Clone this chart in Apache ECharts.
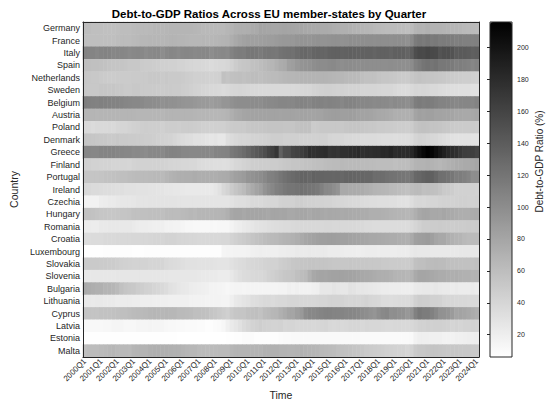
<!DOCTYPE html>
<html>
<head>
<meta charset="utf-8">
<script src="https://cdn.jsdelivr.net/npm/echarts@6/dist/echarts.min.js"></script>
<style>
  html, body { margin: 0; padding: 0; background: #fff; }
  #chart { width: 550px; height: 406px; }
</style>
</head>
<body>
<div id="chart"></div>
<script>
// Debt-to-GDP heatmap, quarterly, 2000Q1 - 2024Q1

const countries = ['Germany', 'France', 'Italy', 'Spain', 'Netherlands', 'Sweden', 'Belgium', 'Austria',
    'Poland', 'Denmark', 'Greece', 'Finland', 'Portugal', 'Ireland', 'Czechia', 'Hungary', 'Romania',
    'Croatia', 'Luxembourg', 'Slovakia', 'Slovenia', 'Bulgaria', 'Lithuania', 'Cyprus', 'Latvia',
    'Estonia', 'Malta'];

// quarter labels
const quarters = [];
for (let y = 2000; y <= 2024; y++) {
    for (let q = 1; q <= 4; q++) {
        if (y === 2024 && q > 1) break;
        quarters.push(y + 'Q' + q);
    }
}

// values per country, 4 per year, last one is 2024Q1
const germany = [60,60,59,59, 59,58,58,58, 59,60,60,60, 62,63,63,63, 64,65,65,65, 66,67,67,67, 67,67,67,66, 65,64,64,64, 64,64,64,66, 68,71,72,72, 73,75,76,81, 80,79,79,79, 80,81,80,80, 79,79,78,77, 76,76,75,75, 74,73,72,71, 71,70,69,68, 67,66,65,64, 63,62,61,61, 61,60,60,59, 61,67,69,68, 70,69,69,69, 68,67,66,66, 65,64,63,63, 62];
const france = [59,59,59,59, 59,59,59,59, 60,61,61,61, 63,64,65,65, 66,66,66,66, 67,68,68,67, 67,66,65,65, 65,66,65,65, 66,67,68,69, 73,77,80,83, 84,84,84,85, 86,87,87,88, 90,91,91,91, 93,94,94,93, 95,96,95,95, 96,97,97,96, 97,99,98,98, 99,99,99,98, 99,99,99,98, 99,99,99,97, 102,114,117,115, 118,115,116,113, 114,113,113,111, 112,111,111,110, 111];
const italy = [108,107,107,105, 107,108,107,105, 106,106,105,102, 104,105,104,101, 103,104,104,100, 104,106,105,102, 105,106,105,103, 104,104,104,100, 103,103,104,102, 108,112,114,113, 117,118,117,115, 118,119,118,117, 121,123,124,123, 127,130,131,129, 133,134,133,132, 135,136,136,135, 136,137,136,135, 136,136,136,134, 136,136,136,134, 137,137,137,134, 139,152,156,155, 158,156,155,147, 150,150,148,141, 142,142,140,137, 139];
const spain = [59,59,58,58, 57,56,55,54, 54,54,53,51, 51,51,49,48, 48,47,46,45, 45,44,44,42, 42,41,40,39, 39,38,37,36, 37,38,38,40, 43,48,51,53, 54,57,58,60, 63,65,66,70, 74,76,84,86, 91,94,95,96, 99,101,101,101, 102,103,101,99, 101,101,100,99, 100,100,99,99, 99,99,99,100, 99,99,98,98, 101,111,115,120, 122,120,122,117, 117,116,115,111, 112,111,109,105, 108];
const netherlands = [53,52,51,51, 50,49,48,48, 49,49,49,49, 50,50,50,50, 51,51,51,50, 51,50,50,50, 49,47,46,45, 45,45,44,43, 44,45,57,55, 57,58,59,57, 59,60,60,59, 60,61,62,62, 64,65,66,66, 67,68,68,68, 68,68,68,68, 67,66,65,65, 64,63,63,62, 59,57,57,57, 55,53,53,52, 51,50,49,49, 52,55,56,55, 54,54,53,52, 51,50,49,48, 47,46,46,45, 44];
const sweden = [52,51,51,51, 53,53,52,53, 51,51,50,50, 51,51,50,50, 50,50,49,49, 50,50,49,49, 47,46,45,43, 42,41,40,38, 38,37,36,37, 39,40,41,40, 39,38,38,37, 37,37,37,37, 37,37,37,37, 38,39,40,40, 42,43,44,45, 45,44,43,44, 43,42,42,42, 41,41,41,41, 40,39,39,39, 37,36,35,35, 37,40,39,40, 39,37,37,36, 35,34,33,33, 32,32,32,31, 31];
const belgium = [112,111,110,109, 111,110,109,108, 108,107,106,105, 104,104,103,101, 101,100,99,97, 98,97,97,95, 94,93,93,92, 90,89,89,87, 89,89,93,93, 97,99,100,100, 100,101,101,100, 102,103,103,104, 106,106,105,105, 107,108,107,106, 109,109,109,107, 109,108,107,105, 108,108,107,105, 105,105,104,102, 103,102,102,100, 102,101,101,98, 102,112,115,112, 114,113,111,108, 108,107,106,104, 106,106,106,105, 108];
const austria = [67,67,67,66, 67,67,67,67, 67,67,67,67, 67,66,66,66, 66,66,66,66, 68,68,68,68, 68,68,68,67, 66,66,66,65, 65,65,66,68, 72,76,78,80, 81,82,82,82, 82,82,82,82, 81,82,82,82, 81,82,82,81, 81,82,82,84, 85,86,86,85, 85,86,85,83, 82,82,81,79, 78,77,76,74, 72,72,71,71, 72,81,84,83, 84,84,82,82, 81,81,80,78, 78,77,77,78, 79];
const poland = [37,37,36,37, 37,37,38,37, 40,41,41,42, 44,45,46,47, 46,46,46,45, 47,47,47,46, 48,48,48,47, 46,45,45,44, 45,45,45,47, 49,50,50,50, 52,53,53,53, 54,55,55,55, 55,54,54,54, 56,57,57,57, 49,50,51,51, 51,51,51,51, 53,54,54,54, 53,52,51,51, 50,50,49,49, 48,47,47,46, 48,54,56,57, 56,55,55,54, 52,51,50,49, 49,49,49,50, 49];
const denmark = [55,54,53,52, 51,51,50,50, 51,50,50,49, 49,48,48,47, 47,46,45,44, 43,42,40,37, 36,34,33,31, 31,30,28,27, 28,26,26,33, 36,38,40,40, 41,42,42,43, 44,45,46,46, 46,45,45,45, 45,44,44,44, 44,44,44,44, 41,40,40,40, 38,38,37,37, 36,36,36,36, 35,34,34,34, 33,34,34,34, 36,41,43,42, 41,39,38,36, 34,32,31,30, 30,30,30,29, 29];
const greece = [106,106,105,105, 107,107,107,107, 106,106,105,105, 102,103,102,101, 104,104,104,103, 107,108,108,107, 105,105,104,104, 104,104,104,103, 107,107,108,109, 116,120,123,127, 133,139,143,147, 152,160,164,172, 136,150,151,159, 162,165,170,178, 176,177,178,180, 172,174,172,177, 177,180,180,182, 177,179,178,180, 180,183,182,186, 181,182,180,181, 184,194,203,210, 216,211,204,196, 190,183,180,177, 171,166,165,164, 160];
const finland = [44,44,43,43, 42,42,42,41, 41,41,41,40, 42,43,43,43, 43,43,43,43, 42,41,40,40, 39,39,38,38, 36,35,34,34, 33,33,32,33, 36,39,40,42, 44,46,46,47, 47,47,48,48, 50,51,52,54, 54,55,56,56, 58,59,59,60, 61,62,62,64, 63,63,63,63, 62,62,61,61, 60,60,60,60, 59,60,60,60, 64,68,69,69, 70,69,67,65, 68,70,72,74, 74,76,76,77, 79];
const portugal = [54,54,54,54, 55,56,56,57, 58,59,59,60, 61,62,62,62, 63,64,64,63, 66,69,70,72, 72,73,73,74, 73,73,73,73, 73,74,75,76, 80,84,86,88, 94,96,98,100, 104,110,111,114, 119,123,126,129, 131,134,134,131, 135,134,134,133, 133,132,133,131, 134,134,133,132, 132,131,131,126, 126,126,124,122, 121,120,119,117, 121,130,132,135, 138,137,131,125, 124,121,118,112, 113,111,107,99, 100];
const ireland = [38,37,36,36, 35,34,34,33, 32,32,31,31, 31,30,30,30, 29,29,28,28, 27,27,26,26, 25,24,24,24, 24,24,24,24, 27,31,38,42, 49,54,58,62, 70,76,82,86, 95,101,105,111, 113,117,120,120, 121,123,121,120, 119,116,111,104, 103,99,95,77, 77,75,75,74, 74,72,70,68, 67,66,65,63, 62,60,59,57, 60,62,62,58, 59,58,57,54, 50,49,47,44, 44,44,44,44, 43];
const czechia = [17,17,17,17, 21,22,23,23, 25,26,26,26, 27,28,28,28, 29,29,29,29, 29,29,29,28, 28,28,28,28, 28,28,28,28, 28,28,28,28, 30,32,33,33, 35,37,37,37, 39,40,40,40, 43,44,44,44, 46,46,45,44, 44,43,43,42, 42,41,40,40, 39,38,37,37, 36,35,34,34, 33,33,33,32, 32,31,31,30, 34,38,39,38, 40,41,41,42, 43,43,43,44, 45,45,44,44, 45];
const hungary = [57,57,56,55, 53,53,52,52, 53,54,54,55, 57,57,58,58, 59,59,59,59, 61,61,61,61, 63,64,65,64, 66,66,66,66, 67,67,68,71, 78,80,80,78, 80,80,80,80, 79,78,80,80, 79,80,78,78, 79,79,79,77, 79,79,78,76, 78,77,77,76, 77,76,75,75, 74,74,72,72, 72,71,70,69, 68,67,67,65, 67,72,78,80, 80,78,78,77, 79,77,76,74, 73,73,73,74, 75];
const romania = [22,22,22,22, 24,24,25,25, 25,25,25,25, 23,22,21,21, 20,19,19,19, 17,17,16,16, 14,13,13,12, 12,12,12,13, 12,13,13,13, 16,19,21,23, 25,27,29,30, 31,32,33,34, 35,36,36,37, 38,38,38,38, 38,38,38,39, 39,38,38,38, 38,38,38,37, 37,36,36,35, 35,35,35,35, 35,35,35,35, 37,41,44,47, 47,48,48,49, 48,48,47,48, 48,48,49,49, 50];
const croatia = [35,35,36,36, 36,37,37,37, 38,38,38,38, 39,39,39,39, 40,41,41,41, 42,42,42,41, 40,40,39,39, 38,38,38,38, 38,38,39,39, 42,45,47,49, 51,54,56,58, 60,62,63,64, 66,68,69,70, 73,76,79,81, 83,84,85,85, 86,86,85,84, 84,83,82,81, 80,79,78,78, 77,76,75,74, 74,73,72,71, 76,84,86,87, 88,85,80,78, 78,73,70,68, 67,64,62,62, 62];
const luxembourg = [7,7,7,7, 7,8,8,8, 8,8,8,8, 7,7,7,8, 8,8,8,8, 8,8,8,8, 8,8,8,8, 8,8,8,8, 8,8,14,15, 15,16,16,16, 17,18,19,20, 19,19,19,19, 21,21,22,22, 23,23,23,24, 23,23,23,23, 22,22,22,22, 21,21,21,20, 21,22,22,22, 21,21,21,21, 21,22,22,22, 24,26,25,25, 25,24,24,24, 24,24,25,25, 26,26,26,26, 26];
const slovakia = [50,50,50,50, 49,49,48,48, 46,45,44,43, 42,42,42,42, 41,41,41,41, 37,36,35,34, 32,31,31,31, 30,30,30,30, 29,28,28,28, 31,33,35,36, 38,39,40,41, 42,43,43,43, 46,48,50,52, 53,54,54,55, 55,54,54,54, 53,52,52,52, 52,53,52,52, 52,52,51,51, 51,50,50,49, 49,49,48,48, 50,57,59,59, 61,61,62,61, 61,59,58,58, 57,57,57,56, 58];
const slovenia = [25,25,26,26, 26,26,26,26, 27,27,27,27, 27,27,27,27, 27,27,27,27, 27,26,26,26, 26,26,26,26, 25,24,24,23, 23,22,22,22, 25,29,32,35, 36,37,38,38, 40,43,45,47, 50,52,53,54, 58,60,62,70, 78,80,81,80, 82,83,83,83, 82,82,81,79, 78,77,76,74, 73,72,72,70, 68,67,67,65, 68,76,80,80, 79,78,76,74, 74,73,72,73, 71,70,70,68, 69];
const bulgaria = [77,74,73,71, 71,68,68,66, 63,57,54,52, 51,48,46,44, 43,41,39,37, 35,31,29,27, 25,24,22,21, 20,19,18,16, 16,15,14,13, 14,15,15,14, 15,15,15,15, 15,15,15,15, 16,16,18,17, 18,17,17,17, 18,19,26,26, 26,28,27,26, 26,30,29,27, 27,26,25,24, 23,22,22,21, 21,21,20,20, 20,23,24,25, 25,24,26,24, 23,23,22,23, 22,22,22,23, 22];
const lithuania = [24,24,23,24, 24,23,23,23, 22,22,22,22, 21,21,20,20, 20,19,19,19, 19,18,18,18, 18,18,17,17, 17,17,16,16, 16,16,15,15, 19,24,26,28, 30,33,34,36, 37,37,36,37, 38,38,40,40, 40,39,39,39, 39,40,41,41, 42,42,42,42, 41,40,41,40, 41,42,40,39, 38,35,35,34, 35,36,36,36, 37,44,47,46, 46,44,44,43, 40,39,39,38, 38,38,37,37, 37];
const cyprus = [55,55,55,55, 56,56,56,57, 58,59,59,60, 62,63,63,64, 65,66,65,65, 66,65,65,63, 63,62,61,59, 59,58,57,54, 52,50,47,45, 50,53,54,54, 57,58,59,56, 61,63,65,66, 71,75,80,80, 86,90,101,104, 104,106,107,109, 109,107,107,107, 106,106,105,103, 101,99,96,93, 99,103,105,98, 99,97,96,91, 95,110,117,114, 114,110,104,97, 96,93,88,81, 82,80,78,74, 72];
const latvia = [12,12,12,12, 12,13,13,14, 14,14,13,13, 13,14,14,14, 15,14,14,14, 13,12,12,11, 11,10,10,10, 9,9,8,8, 9,10,13,18, 23,27,31,36, 39,42,44,46, 44,43,42,42, 43,40,41,41, 39,39,39,39, 38,39,40,41, 38,37,38,37, 38,40,40,40, 38,40,39,39, 39,38,37,37, 38,38,37,37, 38,41,43,43, 45,44,45,45, 44,43,41,42, 41,42,42,44, 43];
const estonia = [7,7,7,7, 7,7,7,7, 7,7,7,7, 7,7,7,7, 7,7,7,7, 7,7,7,6, 6,6,6,6, 6,6,6,6, 6,6,6,7, 7,8,8,9, 9,9,8,8, 8,8,8,8, 9,10,10,11, 11,11,11,11, 11,11,11,11, 11,11,11,11, 11,11,11,11, 10,10,10,10, 10,10,10,10, 10,10,10,10, 11,17,19,19, 19,18,18,18, 17,17,17,18, 18,19,20,20, 21];
const malta = [58,60,61,61, 63,64,65,66, 64,64,64,63, 67,68,69,69, 71,72,72,72, 72,71,70,70, 68,66,65,65, 63,63,62,62, 62,63,63,63, 66,68,68,68, 68,68,68,68, 70,70,70,70, 69,69,68,68, 69,70,69,68, 67,66,64,63, 62,61,59,58, 57,56,55,54, 52,50,49,48, 47,46,45,44, 43,42,42,40, 43,50,52,52, 54,55,55,54, 53,52,52,52, 51,51,51,50, 50];

const rows = [germany, france, italy, spain, netherlands, sweden, belgium, austria, poland, denmark,
    greece, finland, portugal, ireland, czechia, hungary, romania, croatia, luxembourg, slovakia,
    slovenia, bulgaria, lithuania, cyprus, latvia, estonia, malta];

// colorbar tick labels
const cbarTicks = [20, 40, 60, 80, 100, 120, 140, 160, 180, 200];

const FONT = 'Liberation Sans, Arial, Helvetica, sans-serif';
const INK = '#262626';

// build heatmap cells
const cells = [];
let vMin = Infinity, vMax = -Infinity;
rows.forEach((vals, i) => {
    if (vals.length !== quarters.length) console.warn(countries[i], vals.length);
    vals.forEach((v, j) => {
        cells.push([j, i, v]);
        vMin = Math.min(vMin, v);
        vMax = Math.max(vMax, v);
    });
});

const chart = echarts.init(document.getElementById('chart'), null, { renderer: 'svg' });

const plot = { left: 74, top: 22, width: 405, height: 335 };
const cbar = { left: 490, top: 22, width: 22, height: 335 };

const option = {
    animation: false,
    backgroundColor: '#ffffff',
    title: {
        text: 'Debt-to-GDP Ratios Across EU member-states by Quarter',
        left: 264,
        textAlign: 'center',
        top: 3,
        textStyle: { fontFamily: FONT, fontSize: 11.5, fontWeight: 'bold', color: '#000' }
    },
    grid: [
        { left: plot.left, top: plot.top, width: plot.width, height: plot.height, containLabel: false },
        { left: cbar.left, top: cbar.top, width: cbar.width, height: cbar.height, show: true, z: 10,
          borderColor: INK, borderWidth: 1, backgroundColor: 'transparent' }
    ],
    xAxis: [
        {
            type: 'category', data: quarters, gridIndex: 0, position: 'bottom', z: 10,
            name: 'Time', nameLocation: 'middle', nameGap: 25,
            nameTextStyle: { fontFamily: FONT, fontSize: 10.5, color: INK },
            axisLine: { lineStyle: { color: INK, width: 1 } },
            axisTick: { inside: true, alignWithLabel: true, interval: 0, length: 3, lineStyle: { color: INK } },
            axisLabel: { interval: 3, rotate: 45, fontFamily: FONT, fontSize: 8, color: INK, margin: 3 },
            splitLine: { show: false }
        },
        {
            type: 'category', data: quarters, gridIndex: 0, position: 'top', z: 10,
            axisLine: { lineStyle: { color: INK, width: 1 } },
            axisTick: { inside: true, alignWithLabel: true, interval: 0, length: 3, lineStyle: { color: INK } },
            axisLabel: { show: false },
            splitLine: { show: false }
        },
        {
            type: 'value', gridIndex: 1, show: false
        }
    ],
    yAxis: [
        {
            type: 'category', data: countries, gridIndex: 0, inverse: true, position: 'left', z: 10,
            name: 'Country', nameLocation: 'middle', nameGap: 63, nameRotate: 90,
            nameTextStyle: { fontFamily: FONT, fontSize: 10.5, color: INK },
            axisLine: { lineStyle: { color: INK, width: 1 } },
            axisTick: { inside: true, alignWithLabel: true, interval: 0, length: 3, lineStyle: { color: INK } },
            axisLabel: { interval: 0, fontFamily: FONT, fontSize: 9, color: INK, margin: 3 },
            splitLine: { show: false }
        },
        {
            type: 'category', data: countries, gridIndex: 0, inverse: true, position: 'right', z: 10,
            axisLine: { lineStyle: { color: INK, width: 1 } },
            axisTick: { inside: true, alignWithLabel: true, interval: 0, length: 3, lineStyle: { color: INK } },
            axisLabel: { show: false },
            splitLine: { show: false }
        },
        {
            // colorbar scale
            type: 'value', gridIndex: 1, position: 'right', min: vMin, max: vMax, z: 10,
            name: 'Debt-to-GDP Ratio (%)', nameLocation: 'middle', nameGap: 22, nameRotate: 90,
            nameTextStyle: { fontFamily: FONT, fontSize: 10, color: INK, padding: [0, 0, 0, 56] },
            axisLine: { show: false },
            axisTick: { show: true, inside: true, length: 3, customValues: cbarTicks, lineStyle: { color: INK } },
            axisLabel: { fontFamily: FONT, fontSize: 7, color: INK, margin: 5, customValues: cbarTicks },
            splitLine: { show: false }
        }
    ],
    visualMap: {
        type: 'continuous',
        seriesIndex: 0,
        min: vMin,
        max: vMax,
        calculable: false,
        hoverLink: false,
        orient: 'vertical',
        left: cbar.left,
        top: cbar.top,
        padding: 0,
        itemWidth: cbar.width,
        itemHeight: cbar.height,
        inRange: { color: ['#ffffff', '#000000'] }
    },
    series: [
        {
            type: 'heatmap',
            xAxisIndex: 0,
            yAxisIndex: 0,
            data: cells,
            itemStyle: { borderWidth: 0 },
            emphasis: { disabled: true }
        }
    ]
};

chart.setOption(option);
</script>
</body>
</html>
